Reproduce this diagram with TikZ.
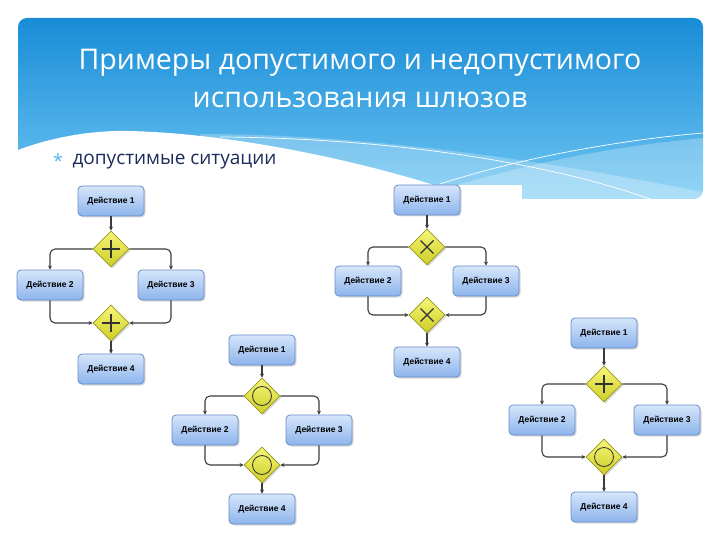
\documentclass[tikz,border=0pt]{standalone}
\usepackage{fontspec}
\setmainfont{Open Sans}
\newfontfamily\boxfont{Liberation Sans}
\usetikzlibrary{shapes.geometric,shadows,calc,arrows.meta}

\definecolor{headtop}{RGB}{25,140,215}
\definecolor{headbot}{RGB}{110,198,242}
\definecolor{subcol}{RGB}{28,43,90}
\definecolor{starcol}{RGB}{80,185,232}
\definecolor{boxtop}{RGB}{214,230,251}
\definecolor{boxbot}{RGB}{141,180,236}
\definecolor{boxline}{RGB}{105,140,200}
\definecolor{gwtop}{RGB}{246,246,120}
\definecolor{gwbot}{RGB}{205,205,40}
\definecolor{gwline}{RGB}{150,150,30}
\definecolor{flow}{RGB}{60,60,60}

\tikzset{
  action/.style={rectangle, rounded corners=4pt, draw=boxline, line width=0.8pt,
    top color=boxtop, bottom color=boxbot, minimum width=66pt, minimum height=30pt,
    inner sep=1pt, font=\boxfont\bfseries\fontsize{8.5}{10}\selectfont,
    drop shadow={shadow xshift=1.5pt, shadow yshift=-1.5pt, opacity=.3}},
  gateway/.style={diamond, draw=gwline, line width=0.8pt, top color=gwtop, bottom color=gwbot,
    minimum width=36pt, minimum height=36pt, inner sep=0pt,
    drop shadow={shadow xshift=1.5pt, shadow yshift=-1.5pt, opacity=.3}},
  sym/.style={draw=black!80, line width=1.3pt},
  gwand/.style={gateway, path picture={
    \draw[sym] ($(path picture bounding box.center)+(-9,0)$) -- ++(18,0)
               ($(path picture bounding box.center)+(0,-9)$) -- ++(0,18);}},
  gwxor/.style={gateway, path picture={
    \draw[sym] ($(path picture bounding box.center)+(-6.5,-6.5)$) -- ++(13,13)
               ($(path picture bounding box.center)+(-6.5,6.5)$) -- ++(13,-13);}},
  gwor/.style={gateway, path picture={
    \draw[draw=black!80, line width=0.8pt] (path picture bounding box.center) circle (9.5pt);}},
  link/.style={draw=flow, line width=1.1pt, rounded corners=5pt, -{Stealth[length=4pt,width=4pt]}}
}

\begin{document}
\begin{tikzpicture}[x=1pt, y=-1pt]
        \useasboundingbox (0,0) rectangle (720,540);

        % Header.
        \shade[top color=headtop, bottom color=headbot, rounded corners=9pt] (18,18) rectangle (703,199);
        \fill[white, opacity=.25] (200,134) .. controls (400,134) and (600,172) .. (703,192) -- (703,199) -- (200,199) -- cycle;
        \fill[white, opacity=.25] (440,190) .. controls (540,160) and (620,146) .. (703,138) -- (703,199) -- (440,199) -- cycle;
        \fill[white] (18,150) .. controls (50,138) and (90,130) .. (130,131) .. controls (250,134) and (400,170) .. (480,201) -- (18,201) -- cycle;
        \draw[white, line width=0.7pt] (220,137) .. controls (380,138) and (540,160) .. (650,199);
        \draw[white, line width=0.7pt] (440,184) .. controls (520,158) and (620,140) .. (703,133);
        \fill[white] (330,185) rectangle (522,205);

        \node[text=white, align=center, font=\fontsize{28.5}{38}\selectfont] (title) at (360,78)
            {Примеры допустимого и недопустимого\\использования шлюзов};
        \node[text=starcol, font=\fontsize{18}{20}\selectfont] (star) at (58,161) {*};
        \node[anchor=west, text=subcol, font=\fontsize{19}{22}\selectfont] (sub) at (69,162) {допустимые ситуации};

        %AND - AND
        \node[action] (a1) at (111,201) {Действие 1};
        \node[gwand] (ag1) at (111,249) {};
        \node[action] (a2) at (50,285) {Действие 2};
        \node[action] (a3) at (171,285) {Действие 3};
        \node[gwand] (ag2) at (111,323) {};
        \node[action] (a4) at (111,369) {Действие 4};
        \draw[link] (a1) -- (ag1);
        \draw[link] (ag1.west) -| (a2.north);
        \draw[link] (ag1.east) -| (a3.north);
        \draw[link] (a2.south) |- (ag2.west);
        \draw[link] (a3.south) |- (ag2.east);
        \draw[link] (ag2) -- (a4);

        %XOR - XOR
        \node[action] (b1) at (427,200) {Действие 1};
        \node[gwxor] (bg1) at (427,247) {};
        \node[action] (b2) at (368,281) {Действие 2};
        \node[action] (b3) at (486,281) {Действие 3};
        \node[gwxor] (bg2) at (427,315) {};
        \node[action] (b4) at (427,362) {Действие 4};
        \draw[link] (b1) -- (bg1);
        \draw[link] (bg1.west) -| (b2.north);
        \draw[link] (bg1.east) -| (b3.north);
        \draw[link] (b2.south) |- (bg2.west);
        \draw[link] (b3.south) |- (bg2.east);
        \draw[link] (bg2) -- (b4);

        %OR - OR
        \node[action] (c1) at (262,350) {Действие 1};
        \node[gwor] (cg1) at (262,396) {};
        \node[action] (c2) at (205,430) {Действие 2};
        \node[action] (c3) at (319,430) {Действие 3};
        \node[gwor] (cg2) at (262,465) {};
        \node[action] (c4) at (262,509) {Действие 4};
        \draw[link] (c1) -- (cg1);
        \draw[link] (cg1.west) -| (c2.north);
        \draw[link] (cg1.east) -| (c3.north);
        \draw[link] (c2.south) |- (cg2.west);
        \draw[link] (c3.south) |- (cg2.east);
        \draw[link] (cg2) -- (c4);

        %AND - OR
        \node[action] (d1) at (604,333) {Действие 1};
        \node[gwand] (dg1) at (604,384) {};
        \node[action] (d2) at (542,420) {Действие 2};
        \node[action] (d3) at (667,420) {Действие 3};
        \node[gwor] (dg2) at (604,457) {};
        \node[action] (d4) at (604,507) {Действие 4};
        \draw[link] (d1) -- (dg1);
        \draw[link] (dg1.west) -| (d2.north);
        \draw[link] (dg1.east) -| (d3.north);
        \draw[link] (d2.south) |- (dg2.west);
        \draw[link] (d3.south) |- (dg2.east);
        \draw[link] (dg2) -- (d4);

    \end{tikzpicture}
\end{document}
